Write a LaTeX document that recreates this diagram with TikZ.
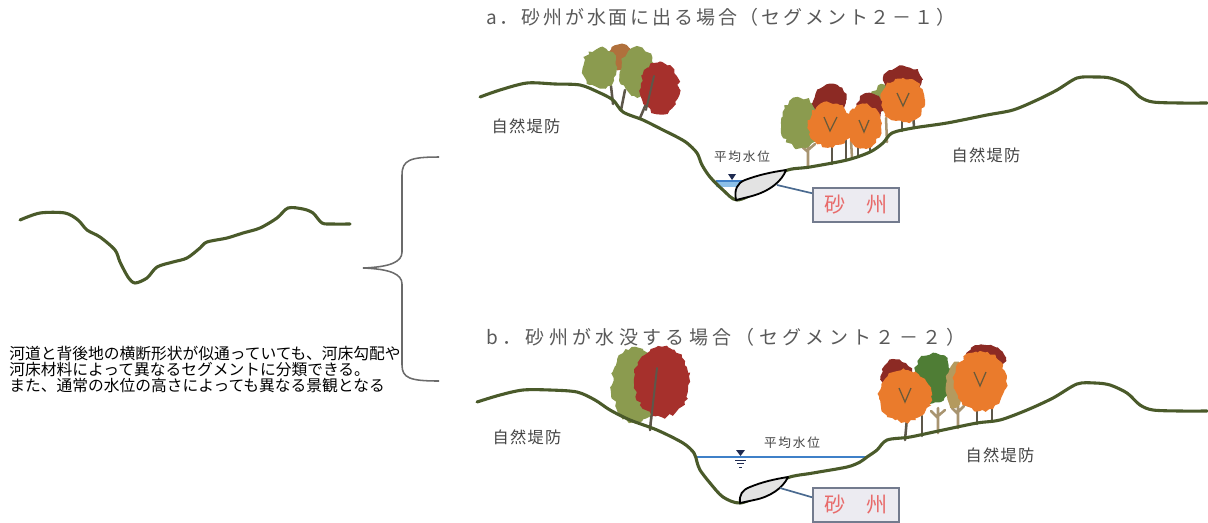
\documentclass[tikz,border=0pt]{standalone}
\usepackage{fontspec}
\setmainfont{Noto Sans CJK JP}
\newfontfamily\spacedfont[LetterSpace=15]{Noto Sans CJK JP}
\newfontfamily\widefont[LetterSpace=23]{Noto Sans CJK JP}
\newfontfamily\levfont[LetterSpace=8]{Noto Sans CJK JP}
\newfontfamily\smallfont[LetterSpace=14]{Noto Sans CJK JP}
\usetikzlibrary{decorations.pathmorphing}
\newcommand\tightlines{\lineskiplimit=-4pt\relax}

\definecolor{riverline}{HTML}{4A5A2A}
\definecolor{leafolive}{HTML}{8B9B4F}
\definecolor{leafred}{HTML}{A6302C}
\definecolor{leafdark}{HTML}{8C2A24}
\definecolor{leaforange}{HTML}{EA7B2C}
\definecolor{leafgreen}{HTML}{4F7D35}
\definecolor{leafbrown}{HTML}{B0703C}
\definecolor{leaftan}{HTML}{B49A5E}
\definecolor{trunkdark}{HTML}{5D574A}
\definecolor{trunklight}{HTML}{A89470}
\definecolor{veincol}{HTML}{6A5A3A}
\definecolor{waterblue}{HTML}{3F80C8}
\definecolor{waterlight}{HTML}{8CC0E8}
\definecolor{marknavy}{HTML}{1E2A50}
\definecolor{barfill}{HTML}{E3E3E3}
\definecolor{boxfill}{HTML}{ECEBF1}
\definecolor{boxline}{HTML}{737B8E}
\definecolor{leadcol}{HTML}{4A6A90}
\definecolor{redtext}{HTML}{E86A6A}
\definecolor{labelgray}{HTML}{444444}
\definecolor{titlegray}{HTML}{595959}
\definecolor{bracegray}{HTML}{6B6B6B}

\tikzset{
  river/.style={draw=riverline, line width=2.2pt, line join=round, line cap=round},
  crown/.style={decorate, decoration={random steps, segment length=2.5pt, amplitude=1.3pt}},
  trunk/.style={draw=trunkdark, line width=1.8pt, line cap=round},
  twig/.style={draw=trunklight, line width=1.8pt, line cap=round},
  vein/.style={draw=veincol, line width=0.9pt},
  headline/.style={font=\spacedfont\fontsize{13.5}{15}\selectfont, text=titlegray, inner sep=0pt},
  bank/.style={font=\levfont\fontsize{11.5}{13}\selectfont, text=labelgray, inner sep=0pt},
  level/.style={font=\smallfont\fontsize{9}{10}\selectfont, text=labelgray, inner sep=0pt},
  sandbox/.style={draw=boxline, line width=1.4pt, fill=boxfill, minimum width=2.15cm,
    minimum height=0.84cm, font=\fontsize{15}{16}\selectfont, text=redtext},
  note/.style={font=\fontsize{11.2}{11.2}\selectfont\tightlines, align=left, inner sep=0pt},
  lead/.style={draw=leadcol, line width=1.2pt},
  water/.style={draw=waterblue, line width=1.3pt},
  bar/.style={draw=black, fill=barfill, line width=1.3pt, line join=round},
  brace/.style={draw=bracegray, line width=1.1pt},
}

\begin{document}
\begin{tikzpicture}[x=0.025cm, y=-0.025cm]
\useasboundingbox (0,0) rectangle (1208,522);
\pgfmathsetseed{7}

% small cross section on the left
\draw[river] plot[smooth, tension=0.5] coordinates {(20,220) (40,213) (65,213) (78,220) (87,230)
  (100,237) (115,250) (120,262) (128,277) (135,283) (147,278) (157,267) (173,262) (187,258)
  (200,248) (207,242) (227,238) (243,233) (260,228) (277,218) (288,208) (303,209) (313,213)
  (322,223) (333,224) (350,224)};

\node[note, anchor=north west] (note) at (9,346)
  {河道と背後地の横断形状が似通っていても、河床勾配や\\
   河床材料によって異なるセグメントに分類できる。\\
   また、通常の水位の高さによっても異なる景観となる};

% brace
\draw[brace] (439,157) .. controls (410,157) and (402,160) .. (402,175) -- (402,252)
  .. controls (402,262) and (390,267) .. (363,268)
  .. controls (390,269) and (402,274) .. (402,284) -- (402,365)
  .. controls (402,378) and (410,381) .. (439,381);

% ---------- a ----------
\node[headline, anchor=west] (tita) at (486,17) {a．砂州が水面に出る場合（セグメント２－１）};

% trees, left bank
\draw[trunk] (611,86) -- (613,104);
\draw[trunk] (625,90) -- (621,110);
\draw[trunk] (646,104) -- (640,118);
\fill[crown, leafbrown] (620,57) circle [radius=12];
\fill[crown, leafolive] (600,68) ellipse [x radius=17, y radius=20];
\fill[crown, leafolive] (637,72) ellipse [x radius=17, y radius=25];
\fill[crown, leafred] (660,88) ellipse [x radius=19, y radius=26];
\draw[trunk, line width=1.4pt] (654,76) -- (646,110);

% trees, right bank
\draw[twig] (808,166) -- (808,143) (808,152) -- (800,145) (808,150) -- (815,144);
\draw[trunk] (832,164) -- (832,140);
\draw[trunk] (846,160) -- (846,140);
\draw[twig] (852,158) -- (851,140);
\draw[trunk] (858,156) -- (858,135);
\draw[trunk] (870,152) -- (870,135);
\draw[twig] (887,142) -- (886,118);
\draw[trunk] (902,131) -- (902,115);
\draw[trunk] (914,128) -- (913,110);
\fill[crown, leafolive] (800,123) ellipse [x radius=19, y radius=25];
\fill[crown, leafolive] (885,98) circle [radius=13];
\fill[crown, leafdark] (830,100) circle [radius=16];
\fill[crown, leaforange] (830,125) ellipse [x radius=22, y radius=22];
\draw[vein] (824,117) -- (830,131) -- (837,117);
\fill[crown, leafdark] (870,106) circle [radius=13];
\fill[crown, leaforange] (864,126) ellipse [x radius=17, y radius=22];
\draw[vein] (859,120) -- (864,132) -- (869,120);
\fill[crown, leafdark] (903,80) ellipse [x radius=19, y radius=14];
\fill[crown, leaforange] (903,100) ellipse [x radius=22, y radius=22];
\draw[vein] (897,93) -- (903,106) -- (909,93);

% water and sand bar
\fill[waterlight] (716,181) rectangle (746,187);
\draw[water] (716,181) -- (746,181);
\fill[marknavy] (728,174) -- (736,174) -- (732,180) -- cycle;

\draw[river] plot[smooth, tension=0.5] coordinates {(480,97) (500,90) (527,83) (555,84) (580,85)
  (598,92) (613,100) (623,112) (643,120) (663,130) (677,137) (687,143) (697,153) (702,165)
  (710,177) (723,190) (737,200) (760,190) (785,171) (810,167) (847,160) (870,152) (883,143)
  (892,133) (913,128) (947,123) (987,115) (1013,110) (1037,100) (1057,90) (1077,78) (1095,77)
  (1110,78) (1127,85) (1140,97) (1153,102) (1180,103) (1207,103)};

\filldraw[bar] (736,200) .. controls (734,190) and (737,183) .. (745,180)
  .. controls (758,175) and (772,172) .. (786,170)
  .. controls (782,181) and (770,191) .. (752,196) -- cycle;
\coordinate (bara) at (777,185);

\node[bank] (levAL) at (526,126) {自然堤防};
\node[bank] (levAR) at (986,155) {自然堤防};
\node[level] (lvla) at (742,157) {平均水位};
\node[sandbox] (sua) at (856,205) {砂　州};
\draw[lead] (bara) -- (sua.165);

% ---------- b ----------
\node[headline, font=\widefont\fontsize{13.5}{15}\selectfont, anchor=west] (titb) at (486,337)
  {b．砂州が水没する場合（セグメント２－２）};

% trees, left bank
\draw[trunk] (655,377) -- (650,430);
\fill[crown, leafolive] (635,385) ellipse [x radius=23, y radius=38];
\fill[crown, leafred] (662,382) ellipse [x radius=28, y radius=35];
\draw[trunk, line width=1.4pt] (657,368) -- (650,430);

% trees, right bank
\draw[trunk] (905,440) -- (907,418);
\draw[trunk] (922,436) -- (922,416);
\draw[twig] (938,433) -- (938,408) (938,418) -- (931,411) (938,416) -- (945,410);
\draw[twig] (958,428) -- (958,404) (958,414) -- (952,408) (958,412) -- (964,406);
\draw[trunk] (977,424) -- (977,404);
\draw[trunk] (992,421) -- (992,404);
\fill[crown, leafgreen] (933,378) ellipse [x radius=19, y radius=25];
\fill[crown, leaftan] (955,385) ellipse [x radius=9, y radius=22];
\fill[crown, leafdark] (897,376) circle [radius=16];
\fill[crown, leaforange] (905,396) ellipse [x radius=26, y radius=26];
\draw[vein] (899,388) -- (905,402) -- (911,388);
\fill[crown, leafdark] (985,358) ellipse [x radius=21, y radius=13];
\fill[crown, leaforange] (980,381) ellipse [x radius=26, y radius=30];
\draw[vein] (974,372) -- (980,386) -- (986,372);

% water level and sand bar
\draw[water] (697,457) -- (868,457);
\fill[marknavy] (736,450) -- (745,450) -- (740.5,456) -- cycle;
\draw[marknavy, line width=0.6pt] (735,460) -- (746,460) (737,463.5) -- (744,463.5) (739,467) -- (742,467);

\draw[river] plot[smooth, tension=0.5] coordinates {(477,402) (500,395) (523,390) (550,390)
  (577,392) (595,400) (610,410) (630,420) (657,430) (683,443) (694,453) (697,462) (700,470)
  (710,483) (723,497) (740,503) (762,494) (787,478) (813,473) (847,467) (860,462) (867,457)
  (877,450) (887,440) (910,437) (943,430) (977,423) (1000,420) (1027,410) (1053,398) (1077,384)
  (1095,383) (1110,385) (1127,393) (1140,405) (1153,410) (1180,411) (1207,411)};

\filldraw[bar] (740,503) .. controls (739,495) and (742,490) .. (750,487)
  .. controls (762,482) and (775,479) .. (788,477)
  .. controls (783,488) and (770,497) .. (754,500) -- cycle;
\coordinate (barb) at (780,488);

\node[bank] (levBL) at (527,437) {自然堤防};
\node[bank] (levBR) at (1000,455) {自然堤防};
\node[level] (lvlb) at (792,443) {平均水位};
\node[sandbox] (sub) at (856,505) {砂　州};
\draw[lead] (barb) -- (sub.170);

\end{tikzpicture}
\end{document}
